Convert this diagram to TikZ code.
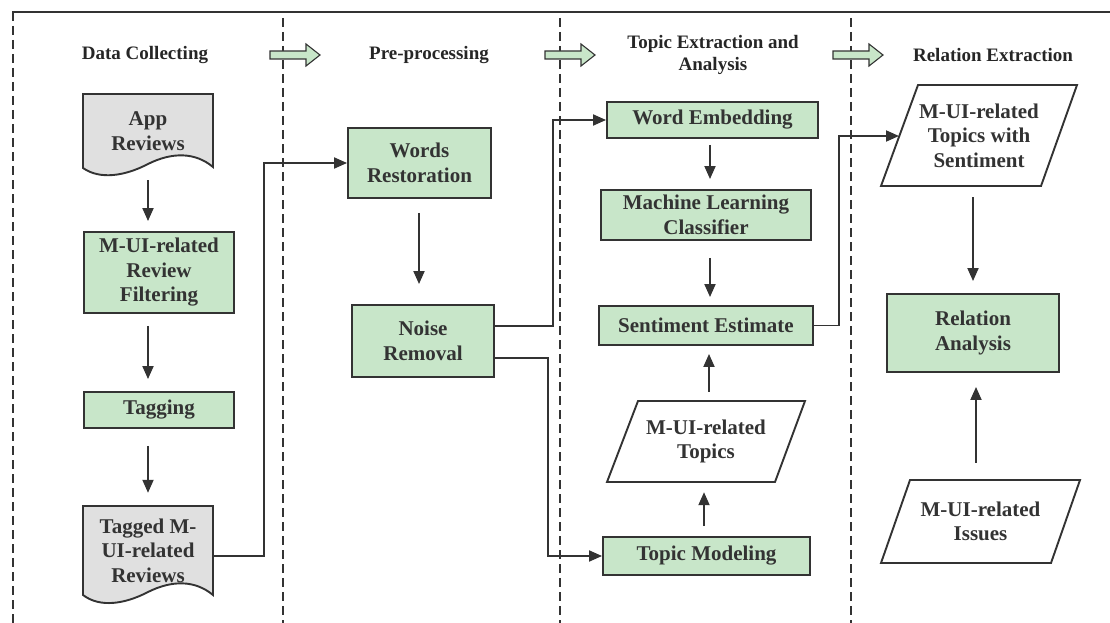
\documentclass[tikz,border=0pt]{standalone}
\usepackage{fontspec}
\setmainfont{Liberation Serif}
\usetikzlibrary{arrows.meta,calc}
\definecolor{gfill}{RGB}{200,230,201}
\definecolor{dfill}{RGB}{224,224,224}
\definecolor{lc}{RGB}{51,51,51}
\begin{document}
\begin{tikzpicture}[x=1pt,y=-1pt,
  box/.style={draw=lc, line width=1.9pt, fill=gfill, text=lc, align=center, inner sep=0pt,
    font=\bfseries\fontsize{21}{24.5}\selectfont},
  plain/.style={text=lc, align=center, inner sep=0pt, font=\bfseries\fontsize{21}{24.5}\selectfont},
  shapeline/.style={draw=lc, line width=1.9pt},
  title/.style={text=black!85, align=center, inner sep=0pt, font=\bfseries\fontsize{19}{21.5}\selectfont},
  arr/.style={draw=lc, line width=1.9pt, -{Triangle[length=13pt,width=11pt]}},
  conn/.style={draw=lc, line width=1.9pt},
  divider/.style={draw=lc, line width=1.8pt, dash pattern=on 9pt off 5pt},
  barrow/.pic={\path[fill=gfill, draw=lc, line width=1.1pt]
     (0,-4) -- (36,-4) -- (36,-11) -- (50,0) -- (36,11) -- (36,4) -- (0,4) -- cycle;}
]
\useasboundingbox (0,0) rectangle (1110,623);

% frame and dividers
\draw[conn] (12,12) -- (1110,12);
\draw[divider] (13,12) -- (13,623);
\draw[divider] (283,18) -- (283,623);
\draw[divider] (560,18) -- (560,623);
\draw[divider] (851,18) -- (851,623);

% titles
\node[title] (t1) at (145,55) {Data Collecting};
\node[title] (t2) at (429,55) {Pre-processing};
\node[title] (t3) at (713,55) {Topic Extraction and\\Analysis};
\node[title] (t4) at (993,55) {Relation Extraction};
\pic at (270,55) {barrow};
\pic at (545,55) {barrow};
\pic at (833,55) {barrow};

% Data collecting column
\path[shapeline, fill=dfill] (83,94) -- (213,94) -- (213,167)
  .. controls (195,152) and (172,152) .. (148,164)
  .. controls (125,176) and (100,180) .. (83,168) -- cycle;
\node[plain, minimum width=130pt, minimum height=74pt] (app) at (148,131) {App\\Reviews};
\path[shapeline, fill=dfill] (83,506) -- (213,506) -- (213,595)
  .. controls (195,580) and (172,580) .. (148,592)
  .. controls (125,604) and (100,608) .. (83,595) -- cycle;
\node[plain, minimum width=130pt, minimum height=89pt] (tagged) at (148,550.5) {Tagged M-\\UI-related\\Reviews};
\node[box, minimum width=150pt, minimum height=81pt] (filt) at (159,272.5) {M-UI-related\\Review\\Filtering};
\node[box, minimum width=150pt, minimum height=36pt] (tag) at (159,410) {Tagging};

\draw[arr, shorten <=12pt, shorten >=10pt] (app.south) -- (app.south |- filt.north);
\draw[arr, shorten <=12pt, shorten >=12pt] (filt.south -| app.south) -- (app.south |- tag.north);
\draw[arr, shorten <=17pt, shorten >=13pt] (tag.south -| app.south) -- (tagged.north);

% Pre-processing column
\node[box, minimum width=143pt, minimum height=70pt] (wr) at (419.5,163) {Words\\Restoration};
\node[box, minimum width=142pt, minimum height=72pt] (nr) at (423,341) {Noise\\Removal};
\draw[arr] ($(tagged.east)+(0,5.5)$) -- ++(51,0) |- (wr.west);
\draw[arr, shorten <=14pt, shorten >=20pt] ([xshift=-0.5pt]wr.south) -- ([xshift=-0.5pt]wr.south |- nr.north);

% Topic extraction column
\node[box, minimum width=211pt, minimum height=36pt] (we) at (712.5,120) {Word Embedding};
\node[box, minimum width=210pt, minimum height=50pt] (mlc) at (706,215) {Machine Learning\\Classifier};
\node[box, minimum width=214pt, minimum height=39pt] (se) at (706,325.5) {Sentiment Estimate};
\path[shapeline, fill=white] (638,401) -- (805,401) -- (775,482) -- (607,482) -- cycle;
\node[plain, minimum width=160pt, minimum height=81pt] (topics) at (706,441.5) {M-UI-related\\Topics};
\node[box, minimum width=207pt, minimum height=38pt] (tm) at (706.5,556) {Topic Modeling};

\draw[arr] ($(nr.east)+(0,-15)$) -- ++(58,0) |- (we.west);
\draw[arr] ($(nr.east)+(0,17)$) -- ++(53,0) |- (tm.west);
\draw[arr, shorten <=6pt, shorten >=10pt] ([xshift=-2.5pt]we.south) -- ([xshift=-2.5pt]we.south |- mlc.north);
\draw[arr, shorten <=17pt, shorten >=8pt] ([xshift=4pt]mlc.south) -- ([xshift=4pt]mlc.south |- se.north);
\draw[arr, shorten <=9pt, shorten >=8pt] ([xshift=3pt]topics.north) -- ([xshift=3pt]topics.north |- se.south);
\draw[arr, shorten <=10pt, shorten >=10pt] ([xshift=-2.5pt]tm.north) -- ([xshift=-2.5pt]tm.north |- topics.south);

% Relation extraction column
\path[shapeline, fill=white] (918,85) -- (1077,85) -- (1041,186) -- (881,186) -- cycle;
\node[plain, minimum width=150pt, minimum height=101pt] (st) at (979,135.5) {M-UI-related\\Topics with\\Sentiment};
\coordinate (stin) at (899,136);
\node[box, minimum width=172pt, minimum height=78pt] (ra) at (973,333) {Relation\\Analysis};
\path[shapeline, fill=white] (910,480) -- (1080,480) -- (1051,563) -- (881,563) -- cycle;
\node[plain, minimum width=160pt, minimum height=83pt] (issues) at (980.5,521.5) {M-UI-related\\Issues};

\draw[arr] (se.east) -- ++(25,0) |- (stin);
\draw[arr, shorten <=11pt, shorten >=12pt] (ra.north |- st.south) -- (ra.north);
\draw[arr, shorten <=17pt, shorten >=14pt] ([xshift=3pt]ra.south |- issues.north) -- ([xshift=3pt]ra.south);
\end{tikzpicture}
\end{document}
